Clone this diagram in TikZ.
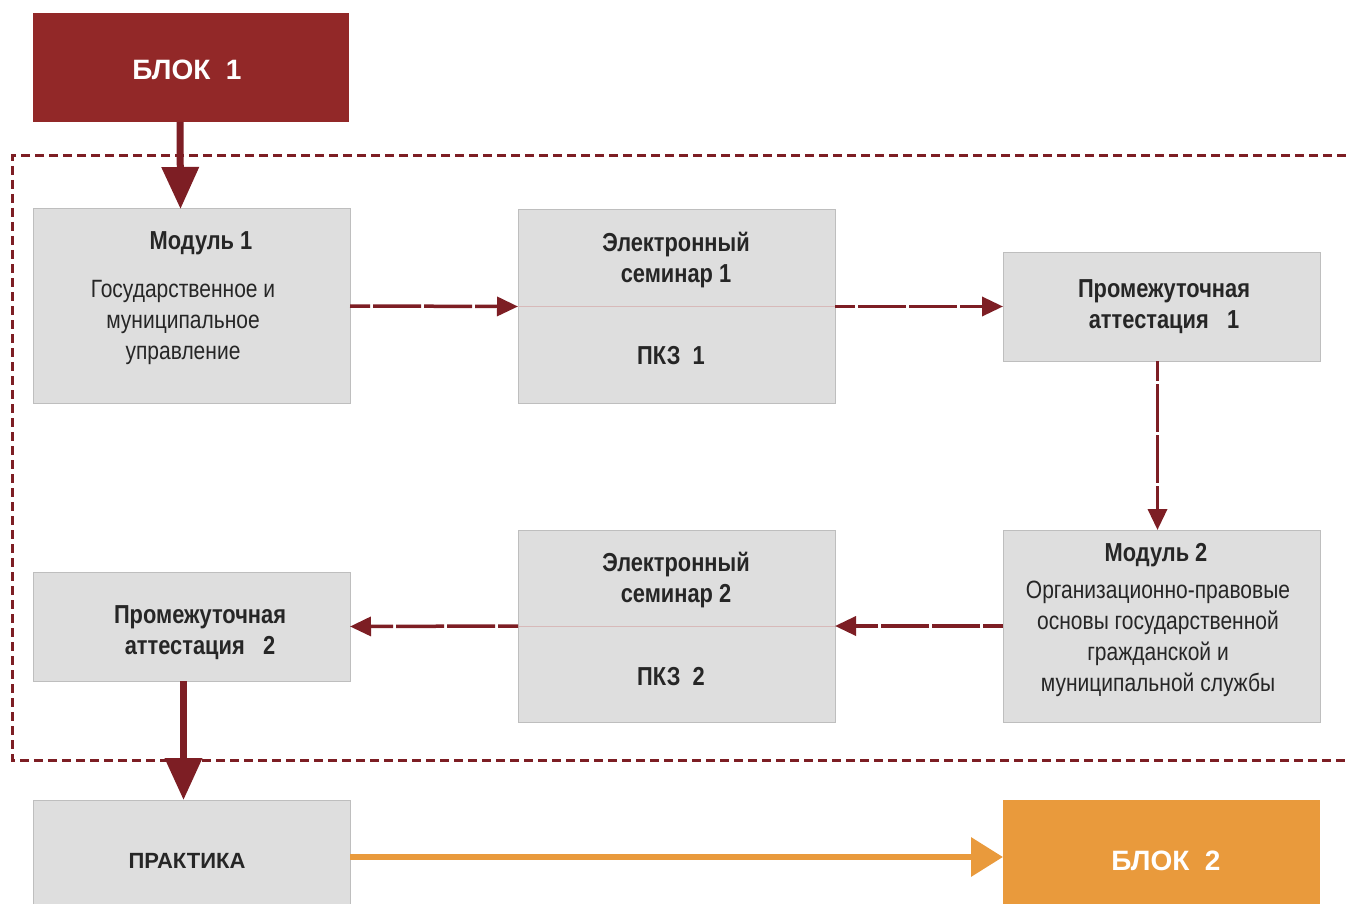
\documentclass[tikz,border=0pt]{standalone}
\usepackage{fontspec}
\setmainfont{Liberation Sans}
\newfontfamily\narrowfont[FakeStretch=0.84]{Liberation Sans}
\usetikzlibrary{arrows.meta}
\definecolor{blockred}{RGB}{146,40,40}
\definecolor{arrred}{RGB}{125,30,36}
\definecolor{boxgray}{RGB}{222,222,222}
\definecolor{boxline}{RGB}{190,190,190}
\definecolor{orangeb}{RGB}{233,154,60}
\definecolor{divline}{RGB}{215,185,185}
\tikzset{
  graybox/.style={draw=boxline, line width=1pt, fill=boxgray, minimum width=317pt, inner sep=0pt, outer sep=0pt},
  redblock/.style={fill=blockred, minimum width=316pt, minimum height=109pt, inner sep=0pt, outer sep=0pt},
  orangeblock/.style={fill=orangeb, minimum width=317pt, minimum height=114pt, inner sep=0pt, outer sep=0pt},
  ttl/.style={font=\narrowfont\bfseries\fontsize{26}{31}\selectfont, text=black!85, align=center, inner sep=0pt},
  body/.style={font=\narrowfont\fontsize{25}{31}\selectfont, text=black!85, align=center, inner sep=0pt},
  wtxt/.style={font=\bfseries\fontsize{28}{30}\selectfont, text=white, inner sep=0pt},
  frameline/.style={draw=arrred, line width=3pt, dash pattern=on 9pt off 5pt},
  thinarrow/.style={draw=arrred, line width=3.5pt, dash pattern=on 48pt off 3pt, dash phase=28pt, -{Triangle[length=21pt,width=19pt]}},
  thickarrow/.style={draw=arrred, line width=7pt, -{Triangle[length=42pt,width=36pt]}},
  orangearrow/.style={draw=orangeb, line width=6.5pt, -{Triangle[length=32pt,width=38pt]}},
  divider/.style={draw=divline, line width=1pt}
}
\begin{document}
\begin{tikzpicture}[x=1pt,y=-1pt]
\useasboundingbox (0,0) rectangle (1346,904);
\fill[white] (0,0) rectangle (1346,904);
\begin{scope}
\clip (0,0) rectangle (1346,904);
% frame
\draw[frameline] (1346,156) -- (12,156) -- (12,760) -- (1346,760);
% boxes
\node[redblock] (b1) at (191,67.5) {};
\node[graybox, minimum height=194pt] (m1) at (191.5,306) {};
\node[graybox, minimum height=193pt] (es1) at (676.5,306.5) {};
\node[graybox, minimum height=109pt] (pa1) at (1161.5,306.5) {};
\node[graybox, minimum height=192pt] (m2) at (1161.5,626) {};
\node[graybox, minimum height=192pt] (es2) at (676.5,626) {};
\node[graybox, minimum height=109pt] (pa2) at (191.5,626.5) {};
\node[graybox, minimum height=114pt] (pr) at (191.5,857) {};
\node[orangeblock] (b2) at (1161.5,857) {};
\draw[divider] (es1.west) -- (es1.east);
\draw[divider] (es2.west) -- (es2.east);
% texts
\node[wtxt] (t1) at (187,70) {БЛОК\ \ 1};
\node[wtxt] (t2) at (1166,861) {БЛОК\ \ 2};
\node[ttl] (tm1) at (201,243) {Модуль 1};
\node[body] (bm1) at (183,322) {Государственное и\\муниципальное\\управление};
\node[ttl] (tes1) at (676,260) {Электронный\\семинар 1};
\node[ttl] (pkz1) at (671,356) {ПКЗ\ \ 1};
\node[ttl] (tpa1) at (1164,307) {Промежуточная\\аттестация\ \ \ 1};
\node[ttl] (tm2) at (1156,555) {Модуль 2};
\node[body] (bm2) at (1158,638.5) {Организационно-правовые\\основы государственной\\гражданской и\\муниципальной службы};
\node[ttl] (tes2) at (676,580.5) {Электронный\\семинар 2};
\node[ttl] (pkz2) at (671,677) {ПКЗ\ \ 2};
\node[ttl] (tpa2) at (200,633) {Промежуточная\\аттестация\ \ \ 2};
\node[ttl, font=\bfseries\fontsize{22}{26}\selectfont] (tpr) at (187,861) {ПРАКТИКА};
% connectors
\draw[thinarrow] (m1.east) -- (es1.west);
\draw[thinarrow] (es1.east) -- (pa1.west);
\draw[thinarrow] ([xshift=-4pt]pa1.south) -- ([xshift=-4pt]m2.north);
\draw[thinarrow] (m2.west) -- (es2.east);
\draw[thinarrow] (es2.west) -- (pa2.east);
\draw[thickarrow] ([xshift=-11pt]b1.south) -- ([xshift=-11pt]m1.north);
\draw[thickarrow] ([xshift=-8pt]pa2.south) -- ([xshift=-8pt]pr.north);
\draw[orangearrow] (pr.east) -- (b2.west);
\end{scope}
\end{tikzpicture}
\end{document}
